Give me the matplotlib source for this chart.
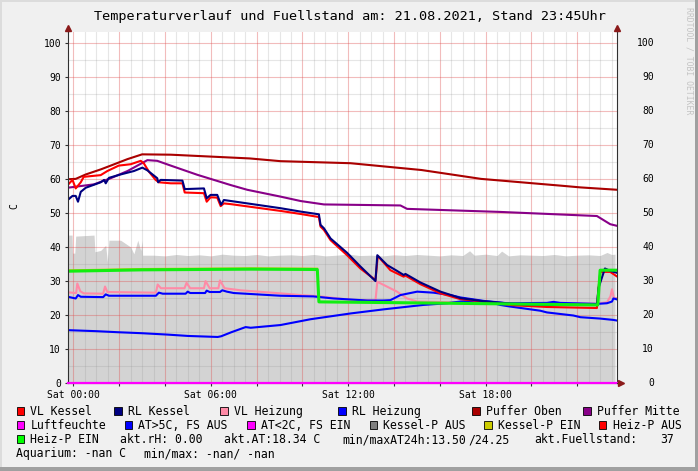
import matplotlib.pyplot as plt
from matplotlib.patches import Rectangle
from matplotlib.ticker import MultipleLocator, FuncFormatter
from matplotlib.transforms import blended_transform_factory

plt.rcParams['font.family'] = ['DejaVu Sans Mono']

W, H = 698, 471

# time in hours, 0 = Sat 00:00, window runs from Fri 23:45 to Sat 23:45
t_puffer_oben = [-0.25, 0.10, 0.54, 1.20, 1.63, 2.36, 3.00, 4.25, 7.70, 9.04, 12.10, 15.20, 17.80, 21.30, 22.14, 23.75]
v_puffer_oben = [59.9, 60.0, 61.3, 62.8, 63.9, 65.8, 67.2, 67.1, 66.0, 65.2, 64.6, 62.6, 60.0, 58.0, 57.5, 56.8]

t_puffer_mitte = [-0.25, 0.9, 1.63, 2.36, 3.23, 3.66, 4.25, 5.41, 6.86, 7.59, 9.04, 9.92, 10.94, 14.28, 14.57, 18.64, 22.86, 23.15, 23.44, 23.75]
v_puffer_mitte = [57.4, 58.4, 60.2, 62.3, 65.5, 65.3, 63.9, 61.2, 58.2, 56.8, 54.8, 53.5, 52.5, 52.2, 51.2, 50.3, 49.1, 47.9, 46.7, 46.2]

t_vl_kessel = [-0.25, -0.04, 0.10, 0.32, 0.45, 1.19, 1.48, 1.98, 2.50, 2.94, 3.08, 3.30, 3.59, 3.73, 4.25, 4.76,
               4.86, 5.70, 5.82, 5.99, 6.28, 6.43, 6.57, 6.86, 9.04, 9.92, 10.72, 10.79, 10.94, 11.23, 11.95, 12.53,
               13.19, 13.29, 13.84, 14.42, 14.50, 15.15, 16.03, 16.90, 17.77, 19.21, 20.68, 22.86, 22.93, 23.01, 23.44, 23.75]
v_vl_kessel = [58.2, 59.7, 57.2, 59.0, 60.6, 61.1, 62.3, 63.9, 64.3, 65.3, 64.5, 62.1, 59.7, 59.0, 58.7, 58.7,
               56.0, 55.8, 53.3, 54.6, 54.5, 52.0, 52.8, 52.6, 50.6, 49.7, 48.8, 46.0, 45.0, 42.0, 37.6, 33.7,
               30.3, 37.4, 33.2, 31.3, 31.6, 29.1, 26.4, 24.7, 24.1, 22.9, 22.4, 22.1, 28.0, 32.7, 32.7, 31.3]

t_rl_kessel = [-0.25, -0.04, 0.10, 0.20, 0.32, 0.54, 1.19, 1.34, 1.41, 1.55, 2.06, 2.64, 3.01, 3.23, 3.66, 3.70, 3.81,
               4.76, 4.86, 5.70, 5.82, 5.99, 6.28, 6.45, 6.57, 9.04, 9.92, 10.72, 10.79, 10.94, 11.23, 11.95, 12.53,
               13.19, 13.27, 13.70, 14.13, 14.42, 14.50, 15.15, 16.03, 16.90, 17.77, 19.21, 20.68, 22.86, 22.93,
               23.21, 23.44, 23.75]
v_rl_kessel = [53.8, 55.0, 55.0, 53.3, 56.2, 57.4, 59.0, 59.7, 58.7, 60.3, 61.3, 62.3, 63.3, 62.5, 60.2, 59.0, 59.7,
               59.5, 57.0, 57.2, 54.3, 55.3, 55.3, 52.4, 53.8, 51.4, 50.4, 49.6, 46.5, 45.5, 42.5, 38.3, 34.3,
               30.0, 37.6, 34.7, 33.0, 31.8, 32.1, 29.6, 26.9, 25.0, 24.2, 23.3, 23.0, 23.0, 28.0,
               33.7, 33.0, 32.4]

t_vl_heizung = [-0.25, 0.12, 0.17, 0.30, 0.45, 1.30, 1.38, 1.48, 3.60, 3.68, 3.82, 4.85, 4.94, 5.10, 5.70, 5.77,
                5.95, 6.33, 6.40, 6.60, 7.30, 9.04, 9.92, 10.65, 12.10, 13.19, 13.27, 13.54, 14.13, 14.57, 15.01,
                17.77, 22.86, 23.30, 23.45, 23.52, 23.60, 23.75]
v_vl_heizung = [26.7, 26.5, 29.3, 27.0, 26.4, 26.3, 28.4, 26.8, 26.6, 29.0, 27.9, 27.9, 29.5, 27.9, 27.9, 30.0,
                27.9, 27.9, 30.2, 27.9, 27.3, 26.4, 25.9, 25.6, 24.5, 24.3, 29.8, 28.9, 26.9, 24.9, 24.0,
                23.6, 23.4, 23.8, 25.5, 27.6, 25.0, 25.0]

t_rl_heizung = [-0.25, 0.10, 0.20, 0.32, 1.30, 1.41, 1.55, 3.60, 3.73, 3.90, 4.90, 4.99, 5.10, 5.75, 5.82, 5.95,
                6.40, 6.50, 6.70, 7.00, 9.04, 10.48, 11.36, 12.83, 13.54, 13.84, 14.28, 15.01, 15.72, 16.46,
                16.90, 17.90, 18.94, 20.68, 20.96, 21.26, 22.86, 23.30, 23.52, 23.58, 23.75]
v_rl_heizung = [25.4, 24.9, 25.9, 25.4, 25.3, 26.1, 25.7, 25.7, 26.6, 26.3, 26.3, 26.9, 26.5, 26.5, 27.2, 26.8,
                26.8, 27.3, 26.9, 26.5, 25.7, 25.5, 24.9, 24.3, 24.3, 24.4, 25.9, 26.9, 26.6, 25.9,
                25.2, 24.2, 23.5, 23.6, 23.9, 23.6, 23.3, 23.5, 24.0, 24.9, 24.6]

# outside temperature
t_at = [-0.25, 1.0, 1.92, 3.0, 4.1, 5.0, 6.3, 6.45, 6.9, 7.52, 7.74, 9.04, 10.35, 12.10, 13.54, 15.28, 16.32,
        16.90, 17.60, 18.30, 18.64, 19.00, 20.39, 20.68, 21.83, 22.14, 23.00, 23.58, 23.75]
v_at = [15.6, 15.3, 15.0, 14.7, 14.3, 13.9, 13.6, 13.8, 15.0, 16.5, 16.3, 17.1, 18.8, 20.5, 21.7, 23.0, 23.5,
        24.0, 24.25, 23.6, 23.0, 22.6, 21.3, 20.8, 19.9, 19.4, 19.0, 18.6, 18.4]

t_heizp_ein = [-0.25, 3.0, 7.74, 10.65, 10.72, 15.0, 22.90, 23.0, 23.75]
v_heizp_ein = [32.9, 33.3, 33.5, 33.4, 23.9, 23.6, 23.0, 33.2, 33.2]

t_kesselp_ein = [-0.25, 3.0, 7.74, 10.65]
v_kesselp_ein = [33.2, 33.6, 33.8, 33.7]

t_luftfeuchte = [-0.25, 23.75]
v_luftfeuchte = [0.0, 0.0]

# fill level (grey area)
t_fuell = [-0.25, -0.06, -0.04, 0.06, 0.10, 0.90, 0.94, 1.19, 1.41, 1.48, 1.55, 2.06, 2.28, 2.50, 2.64, 2.81,
           2.94, 3.00, 3.02, 3.5, 4.0, 4.5, 5.0, 5.5, 6.0, 6.5, 7.0, 7.5, 8.0, 8.5, 9.0, 9.5, 10.0, 10.5,
           11.0, 11.5, 12.0, 12.5, 13.0, 13.5, 14.0, 14.5, 15.0, 15.5, 16.0, 16.5, 17.0, 17.3, 17.5, 18.0,
           18.5, 18.7, 19.0, 19.5, 20.0, 20.5, 21.0, 21.5, 22.0, 22.5, 23.0, 23.3, 23.5, 23.65]
v_fuell = [43.5, 43.5, 38.2, 38.2, 43.2, 43.5, 38.6, 39.0, 40.5, 35.7, 42.0, 42.0, 41.0, 40.0, 38.0, 42.0,
           39.0, 42.0, 37.6, 37.6, 37.4, 37.8, 37.5, 37.7, 37.4, 37.9, 37.6, 37.5, 37.8, 37.4, 37.6, 37.7, 37.5, 37.8,
           37.4, 37.6, 37.9, 37.5, 37.6, 37.4, 37.7, 37.5, 37.8, 37.6, 37.4, 37.7, 37.5, 38.9, 37.6, 37.9,
           37.5, 38.8, 37.4, 37.7, 37.6, 37.5, 37.8, 37.4, 37.6, 37.7, 37.5, 38.4, 37.8, 37.9]

x_tick_hours = [0, 6, 12, 18]
y_ticks = [0, 10, 20, 30, 40, 50, 60, 70, 80, 90, 100]

legend_row1 = [("VL Kessel", '#ff0000'), ("RL Kessel", '#000080'), ("VL Heizung", '#ff8aa6'),
               ("RL Heizung", '#0000ff'), ("Puffer Oben", '#aa0000'), ("Puffer Mitte", '#880088')]
legend_row2 = [("Luftfeuchte", '#ff00ff'), ("AT>5C, FS AUS", '#0000ff'), ("AT<2C, FS EIN", '#ff00ff'),
               ("Kessel-P AUS", '#808080'), ("Kessel-P EIN", '#cccc00'), ("Heiz-P AUS", '#ff0000')]
legend_row3 = [("Heiz-P EIN", '#00ff00')]
info_row3 = ["akt.rH: 0.00", "akt.AT:18.34 C", "min/maxAT24h:13.50", "/24.25", "akt.Fuellstand:", "37"]
info_row4 = ["Aquarium: -nan C", "min/max: -nan/ -nan"]


def fx(x):
    return x / W


def fy(y):
    return 1 - y / H


fig = plt.figure(figsize=(W / 100, H / 100), dpi=100, facecolor='#f0f0f0')
ax = fig.add_axes([fx(67.7), fy(383.3), (617.3 - 67.7) / W, (383.3 - 31.7) / H])
ax.set_facecolor('white')

ax.fill_between(t_fuell, 0, v_fuell, color='#d3d3d3', lw=0, zorder=1)
ax.plot(t_kesselp_ein, v_kesselp_ein, color='#c8c800', lw=1.2, zorder=2)
ax.plot(t_vl_heizung, v_vl_heizung, color='#ff8aa6', lw=1.5, zorder=2)
ax.plot(t_rl_heizung, v_rl_heizung, color='#0000ff', lw=1.5, zorder=2)
ax.plot(t_at, v_at, color='#0000ff', lw=1.5, zorder=2)
ax.plot(t_puffer_oben, v_puffer_oben, color='#aa0000', lw=1.5, zorder=2)
ax.plot(t_puffer_mitte, v_puffer_mitte, color='#880088', lw=1.5, zorder=2)
ax.plot(t_vl_kessel, v_vl_kessel, color='#ff0000', lw=1.5, zorder=2)
ax.plot(t_rl_kessel, v_rl_kessel, color='#000080', lw=1.5, zorder=2)
ax.plot(t_heizp_ein, v_heizp_ein, color='#11ee11', lw=2.2, zorder=2)
ax.plot(t_luftfeuchte, v_luftfeuchte, color='#ff00ff', lw=1.6, zorder=5, clip_on=False)

ax.set_xlim(-0.25, 23.75)
ax.set_ylim(0, 103.2)

# grid: red every 2h / 10, grey every 30min / 5
ax.xaxis.set_major_locator(MultipleLocator(2))
ax.xaxis.set_minor_locator(MultipleLocator(0.5))
ax.yaxis.set_major_locator(MultipleLocator(10))
ax.yaxis.set_minor_locator(MultipleLocator(5))
ax.set_axisbelow('line')
ax.grid(which='minor', color='#8f8f8f', alpha=0.22, lw=0.8)
ax.grid(which='major', color='#de5050', alpha=0.38, lw=0.8)

ax.xaxis.set_major_formatter(FuncFormatter(
    lambda h, pos: "Sat %02d:00" % int(round(h)) if int(round(h)) in x_tick_hours else ""))
ax.tick_params(axis='both', which='major', length=2, width=0.8, color='#303030', labelsize=7)
ax.tick_params(axis='x', pad=3)
ax.tick_params(axis='y', pad=2.8)
ax.tick_params(which='minor', length=0)

for side in ['left', 'right', 'bottom']:
    ax.spines[side].set_color('#303030')
    ax.spines[side].set_linewidth(0.8)
ax.spines['top'].set_visible(False)

# right hand labels
trans = blended_transform_factory(ax.transAxes, ax.transData)
for v in y_ticks:
    ax.text((654 - 67.7) / 549.6, v, str(v), transform=trans, ha='right', va='center', fontsize=7, clip_on=False)

# arrows
ax.plot([-0.25], [104.2], marker='^', ms=4.5, color='#8b1a1a', clip_on=False, zorder=6)
ax.plot([23.75], [104.2], marker='^', ms=4.5, color='#8b1a1a', clip_on=False, zorder=6)
ax.plot([23.75, 23.9], [0, 0], color='#303030', lw=0.8, clip_on=False, zorder=6)
ax.plot([23.92], [0], marker='>', ms=4.5, color='#8b1a1a', clip_on=False, zorder=6)
ax.plot([-0.25, -0.25], [103.2, 104], color='#303030', lw=0.8, clip_on=False)
ax.plot([23.75, 23.75], [103.2, 104], color='#303030', lw=0.8, clip_on=False)

fig.text(fx(350), fy(16.5), "Temperaturverlauf und Fuellstand am: 21.08.2021, Stand 23:45Uhr",
         ha='center', va='center', fontsize=9.7)
fig.text(fx(14), fy(206), "C", rotation=90, ha='center', va='center', fontsize=7)
fig.text(fx(688.5), fy(7), "RRDTOOL / TOBI OETIKER", rotation=270, ha='center', va='top',
         fontsize=5.9, color='#c4c4c4')


def swatch(x, y, color):
    fig.add_artist(Rectangle((fx(x), fy(y + 3.8)), 7.6 / W, 7.6 / H, transform=fig.transFigure,
                             facecolor=color, edgecolor='black', lw=0.6))


def label(x, y, s):
    fig.text(fx(x), fy(y + 4.2), s, ha='left', va='baseline', fontsize=8.3)


row1_x = [16.5, 114.4, 220.4, 338.4, 472.0, 583.3]
row2_x = [16.5, 124.7, 247.0, 369.5, 484.4, 598.8]
for (s, c), x in zip(legend_row1, row1_x):
    swatch(x, 411, c)
    label(x + 13.8, 411, s)
for (s, c), x in zip(legend_row2, row2_x):
    swatch(x, 425, c)
    label(x + 13.8, 425, s)
swatch(16.5, 439, legend_row3[0][1])
label(30.3, 439, legend_row3[0][0])
for s, x in zip(info_row3, [120.2, 224.0, 342.0, 468.8, 534.3, 660.3]):
    label(x, 439, s)
for s, x in zip(info_row4, [16.5, 143.8]):
    label(x, 453, s)

# 3d frame
fig.add_artist(Rectangle((0, fy(2)), 1, 2 / H, transform=fig.transFigure, facecolor='#dcdcdc', lw=0))
fig.add_artist(Rectangle((0, 0), 2 / W, 1, transform=fig.transFigure, facecolor='#dcdcdc', lw=0))
fig.add_artist(Rectangle((fx(694.5), 0), 3.5 / W, 1, transform=fig.transFigure, facecolor='#a0a0a0', lw=0))
fig.add_artist(Rectangle((0, 0), 1, 4 / H, transform=fig.transFigure, facecolor='#a0a0a0', lw=0))

fig.savefig('out.png', dpi=100, facecolor=fig.get_facecolor())
